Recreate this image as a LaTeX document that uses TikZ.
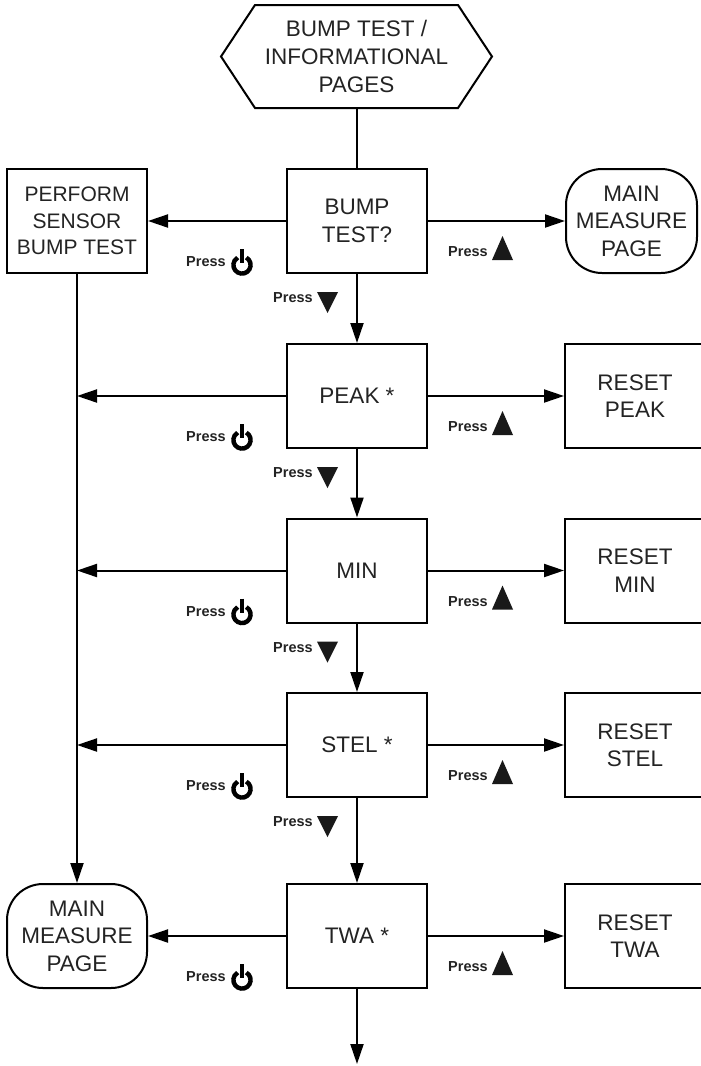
\documentclass[tikz,border=0pt]{standalone}
\usepackage{fontspec}
\setmainfont{Liberation Sans}
\usetikzlibrary{arrows.meta}
\definecolor{txt}{RGB}{35,35,35}
\begin{document}
\begin{tikzpicture}[x=1pt,y=-1pt,
  box/.style={draw,line width=2pt,minimum width=140pt,minimum height=104pt,inner sep=0pt,align=center,font=\fontsize{22.5}{27.5}\selectfont,text=txt},
  rbox/.style={box,rounded corners=36pt},
  conn/.style={line width=2pt,-{Triangle[length=20pt,width=13pt]}},
  plain/.style={line width=2pt},
  press/.style={font=\bfseries\fontsize{14.5}{16}\selectfont,text=txt,inner sep=0pt,anchor=west},
  pwr/.pic={
    \draw[line width=4.4pt] (-60:8.6) arc[start angle=-60,end angle=240,radius=8.6];
    \draw[line width=4.4pt] (0,-16) -- (0,-2);
  },
  tup/.pic={\fill[black!90] (-10.5,12) -- (10.5,12) -- (0,-12) -- cycle;},
  tdn/.pic={\fill[black!90] (-10.5,-10.5) -- (10.5,-10.5) -- (0,10.5) -- cycle;},
]
\useasboundingbox (0,0) rectangle (701,1066);

% top hexagon
\draw[line width=2pt] (221,56.5) -- (255,5) -- (458,5) -- (492,56.5) -- (458,108) -- (255,108) -- cycle;
\node[align=center,font=\fontsize{22.5}{28}\selectfont,text=txt,inner sep=0pt] (hex) at (356.5,56.5) {BUMP TEST /\\INFORMATIONAL\\PAGES};
\coordinate (hexb) at (357,108);

% main column
\node[box] (bump) at (357,221) {BUMP\\TEST?};
\node[box] (peak) at (357,396) {PEAK *};
\node[box] (min)  at (357,570.5) {MIN};
\node[box] (stel) at (357,745) {STEL *};
\node[box] (twa)  at (357,936) {TWA *};
\coordinate (endp) at (357,1064);

% left column
\node[box,font=\fontsize{21}{26.5}\selectfont] (perform) at (77,221) {PERFORM\\SENSOR\\BUMP TEST};
\node[rbox] (mainL) at (77,936) {MAIN\\MEASURE\\PAGE};

% right column
\node[rbox,minimum width=131pt] (mainR) at (631.5,221) {MAIN\\MEASURE\\PAGE};
\begin{scope}
\clip (0,0) rectangle (701,1066);
\node[box] (rpeak) at (635,396) {RESET\\PEAK};
\node[box] (rmin)  at (635,570.5) {RESET\\MIN};
\node[box] (rstel) at (635,745) {RESET\\STEL};
\node[box] (rtwa)  at (635,936) {RESET\\TWA};
\end{scope}

% connectors
\draw[plain] (hexb) -- (bump.north);
\draw[conn] (bump.south) -- (peak.north);
\draw[conn] (peak.south) -- (min.north);
\draw[conn] (min.south) -- (stel.north);
\draw[conn] (stel.south) -- (twa.north);
\draw[conn] (twa.south) -- (endp);

\draw[conn] (bump.west) -- (perform.east);
\draw[conn] (perform.south) -- (mainL.north);
\draw[conn] (peak.west) -- (peak.west -| perform.south);
\draw[conn] (min.west) -- (min.west -| perform.south);
\draw[conn] (stel.west) -- (stel.west -| perform.south);
\draw[conn] (twa.west) -- (mainL.east);

\draw[conn] (bump.east) -- (mainR.west);
\draw[conn] (peak.east) -- (rpeak.west);
\draw[conn] (min.east) -- (rmin.west);
\draw[conn] (stel.east) -- (rstel.west);
\draw[conn] (twa.east) -- (rtwa.west);

% labels
\foreach \c/\n in {221/a,396/b,570.5/c,745/d,936/e}{
  \node[press] (pl\n) at (186,\c+41) {Press};
  \pic at (242,\c+44) {pwr};
  \node[press] (pu\n) at (448,\c+31) {Press};
  \pic at (502.5,\c+27) {tup};
}
\foreach \c/\n in {221/a,396/b,570.5/c,745/d}{
  \node[press] (pd\n) at (273,\c+77) {Press};
  \pic at (327.5,\c+81.5) {tdn};
}
\end{tikzpicture}
\end{document}
